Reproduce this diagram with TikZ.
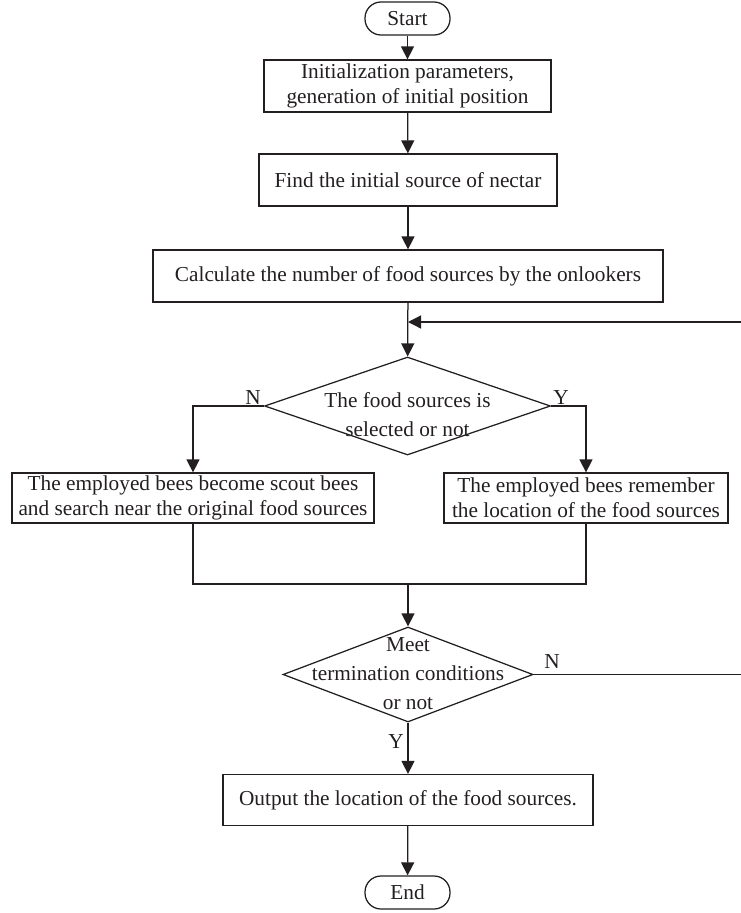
\documentclass[tikz,border=0pt]{standalone}
\usepackage{fontspec}
\setmainfont{Liberation Serif}
\usetikzlibrary{shapes.geometric,arrows.meta}
\definecolor{ink}{HTML}{231F20}
\begin{document}
\begin{tikzpicture}[x=1pt,y=-1pt,
  every node/.style={font=\fontsize{21.3}{25}\selectfont, text=ink},
  boxnode/.style={draw=ink, line width=1.25pt, rectangle, inner sep=0pt, align=center},
  termnode/.style={draw=ink, line width=1.25pt, rectangle, rounded corners=16pt, inner sep=0pt, minimum width=85pt, minimum height=33pt},
  diamnode/.style={draw=ink, line width=1.25pt, diamond, inner sep=0pt},
  dtext/.style={align=center, inner sep=0pt, font=\fontsize{21.3}{29}\selectfont},
  lbl/.style={inner sep=0pt},
  line/.style={draw=ink, line width=1.25pt},
  arr/.style={line, -{Triangle[length=13pt,width=13pt]}}
]
\useasboundingbox (0,0) rectangle (741,913);

\node[termnode] (start) at (407.5,18.5) {Start};
\node[boxnode, minimum width=287pt, minimum height=52pt] (b1) at (407.5,86) {Initialization parameters,\\generation of initial position};
\node[boxnode, minimum width=298pt, minimum height=52pt] (b2) at (408,180) {Find the initial source of nectar};
\node[boxnode, minimum width=510pt, minimum height=52pt] (b3) at (408,276) {Calculate the number of food sources by the onlookers};
\coordinate (m1) at (408,322);

\node[diamnode, minimum width=286pt, minimum height=98pt] (d1) at (407.5,406) {};
\node[dtext] (d1t) at (407.5,415) {The food sources is\\selected or not};
\node[lbl] (n1) at (253,398) {N};
\node[lbl] (y1) at (561,398) {Y};

\node[boxnode, minimum width=362pt, minimum height=50pt] (b4) at (193,498) {The employed bees become scout bees\\and search near the original food sources};
\node[boxnode, minimum width=284pt, minimum height=50pt] (b5) at (586,498) {The employed bees remember\\the location of the food sources};
\coordinate (m2) at (408,584);

\node[diamnode, minimum width=250pt, minimum height=95pt] (d2) at (408,674.5) {};
\node[dtext] (d2t) at (408,674) {Meet\\termination conditions\\or not};
\node[lbl] (n2) at (552,662) {N};
\node[lbl] (y2) at (396,742) {Y};

\node[boxnode, minimum width=370pt, minimum height=51pt] (b6) at (408,800) {Output the location of the food sources.};
\node[termnode] (end) at (407.5,892.5) {End};

\coordinate (r1) at (743,674.5);
\coordinate (r2) at (743,322);

\draw[arr] (start) -- (b1);
\draw[arr] (b1) -- (b2);
\draw[arr] (b2) -- (b3);
\draw[arr] (b3) -- (d1);
\draw[arr] (d1.west) -| (b4.north);
\draw[arr] (d1.east) -| (b5.north);
\draw[line] (b4.south) |- (m2) -| (b5.south);
\draw[arr] (m2) -- (d2);
\draw[line] (d2.east) -- (r1) -- (r2);
\draw[arr] (r2) -- (m1);
\draw[arr] (d2) -- (b6);
\draw[arr] (b6) -- (end);
\end{tikzpicture}
\end{document}
